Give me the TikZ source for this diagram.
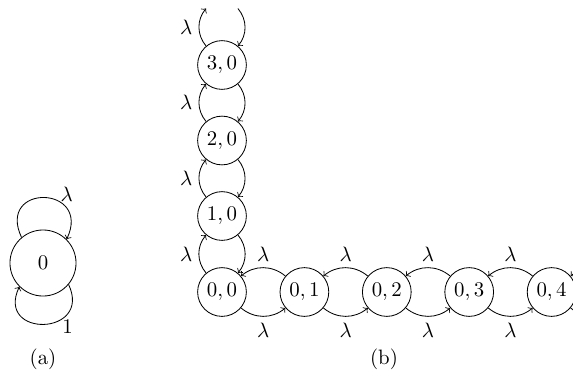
\documentclass[tikz,border=0pt]{standalone}
\begin{document}
\begin{tikzpicture}[x=0.48pt,y=0.48pt,
  st/.style={circle,draw,minimum size=23.4pt,inner sep=0pt},
  bigst/.style={circle,draw,minimum size=31.7pt,inner sep=0pt},
  ghost/.style={circle,minimum size=23.4pt,inner sep=0pt},
  tr/.style={->},
  lbl/.style={inner sep=3pt}]
\useasboundingbox (0,0) rectangle (573,386);
\clip (0,0) rectangle (573,386);
% (a)
\node[bigst] (n0) at (43,123) {$0$};
\draw[tr] (n0.130) .. controls +(115:60) and +(65:60) .. node[pos=0.75,above,lbl] {$\lambda$} (n0.45);
\draw[tr] (n0.-40) .. controls +(-65:57) and +(245:57) .. node[pos=0.25,below,lbl] {$1$} (n0.225);
\node (capa) at (43,27) {(a)};
% (b)
\node[st] (n00) at (222,94) {$0,0$};
\node[st] (n01) at (304.4,94) {$0,1$};
\node[st] (n02) at (386.8,94) {$0,2$};
\node[st] (n03) at (469.2,94) {$0,3$};
\node[st] (n04) at (551.6,94) {$0,4$};
\node[ghost] (n05) at (634,94) {};
\node[st] (n10) at (222,170) {$1,0$};
\node[st] (n20) at (222,245.5) {$2,0$};
\node[st] (n30) at (222,321) {$3,0$};
\node[ghost] (n40) at (222,396.5) {};
\node (capb) at (384,27) {(b)};
% horizontal
\foreach \a/\b in {n00/n01,n01/n02,n02/n03,n03/n04}{
  \draw[tr] (\b) to[bend right=40] node[above,lbl] {$\lambda$} (\a);
  \draw[tr] (\a) to[bend right=40] node[below,lbl] {$\lambda$} (\b);
}
\draw[tr] (n05) to[bend right=40] (n04);
\draw[tr] (n04) to[bend right=40] (n05);
% vertical
\foreach \a/\b in {n00/n10,n10/n20,n20/n30,n30/n40}{
  \draw[tr] (\a) to[bend left=40] node[left,lbl] {$\lambda$} (\b);
  \draw[tr] (\b) to[bend left=40] (\a);
}
\end{tikzpicture}
\end{document}
